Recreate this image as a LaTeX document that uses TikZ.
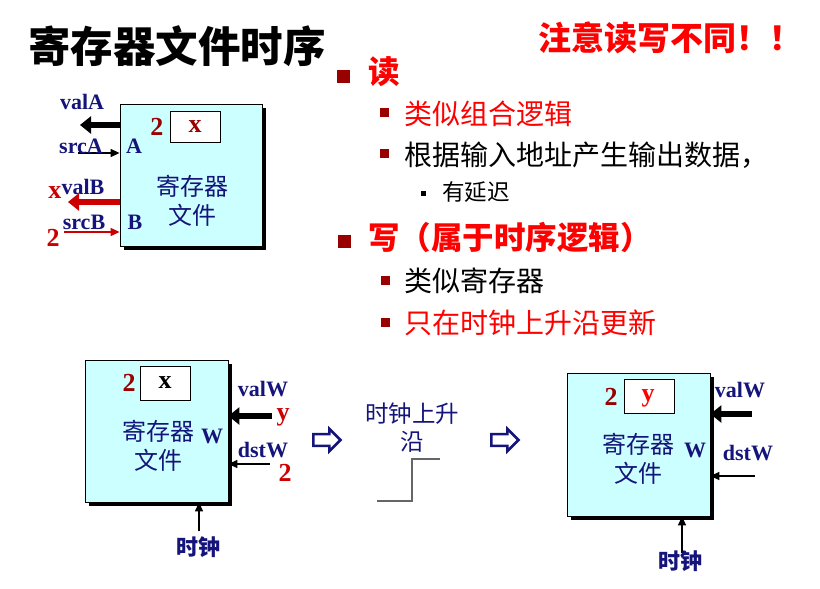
\documentclass[tikz,border=0pt]{standalone}
\usepackage{fontspec}
\setmainfont{Liberation Serif}
\newfontfamily\cjk{Noto Sans CJK SC}
\usepackage{tikz}
\usepackage{xcolor}
\usetikzlibrary{positioning, shapes.arrows, arrows.meta, shadows}

\definecolor{navytext}{HTML}{14147A}
\definecolor{boxcyan}{HTML}{CCFFFF}
\definecolor{darkred}{HTML}{990000}
\definecolor{brightred}{HTML}{FF0000}
\definecolor{arrowred}{HTML}{CC0000}

\begin{document}
\begin{tikzpicture}[
                x=1pt, y=-1pt,
                reg_box/.style={rectangle, draw=black, thick, fill=boxcyan, minimum width=142pt, minimum height=142pt, drop shadow={shadow xshift=3.5pt, shadow yshift=-3.5pt, fill=black, opacity=1}},
                cell_box/.style={rectangle, draw=black, thick, fill=white, minimum width=50pt, minimum height=33pt, inner sep=0pt},
                sig_text/.style={font=\bfseries\fontsize{22}{22}\selectfont, text=navytext, inner sep=0pt},
                num_text/.style={font=\bfseries\fontsize{26}{26}\selectfont, inner sep=0pt},
                box_text/.style={font=\cjk\fontsize{24}{29}\selectfont, text=navytext, align=center, inner sep=0pt},
                clk_text/.style={font=\cjk\bfseries\fontsize{22}{22}\selectfont, text=navytext, inner sep=0pt},
                item_text/.style={font=\cjk\fontsize{28}{28}\selectfont, anchor=west, inner sep=0pt},
                head_text/.style={font=\cjk\bfseries\fontsize{31.5}{31.5}\selectfont, text=brightred, anchor=west, inner sep=0pt},
                big_bullet/.style={rectangle, fill=darkred, minimum size=13pt, inner sep=0pt},
                small_bullet/.style={rectangle, fill=darkred, minimum size=9pt, inner sep=0pt},
                wide_arrow/.style={line width=6pt, -{Triangle[length=11pt,width=17pt]}},
                thin_arrow/.style={line width=1.5pt, -{Triangle[length=9pt,width=8pt]}},
                hollow_arrow/.style={single arrow, draw=navytext, fill=white, line width=2.5pt, minimum height=27pt, minimum width=22pt, inner sep=3.5pt, single arrow head extend=4pt}
            ]
                \useasboundingbox (0,0) rectangle (820,589);

                % Title and note
                \node[font=\cjk\bfseries\fontsize{42.5}{42.5}\selectfont, anchor=west, inner sep=0pt] (title) at (28,46) {寄存器文件时序};
                \node[font=\cjk\bfseries\fontsize{33}{33}\selectfont, text=brightred, anchor=west, inner sep=0pt] (note) at (538,38) {注意读写不同！！};

                % Read / write bullets
                \node[big_bullet] (b1) at (343,76) {};
                \node[head_text] (read) at (368,72) {读};
                \node[small_bullet] (b11) at (384,112) {};
                \node[item_text, text=brightred] (read1) at (404,114) {类似组合逻辑};
                \node[small_bullet] (b12) at (384,153) {};
                \node[item_text] (read2) at (404,155) {根据输入地址产生输出数据，};
                \node[rectangle, fill=black, minimum size=5pt, inner sep=0pt] (b121) at (423,193) {};
                \node[item_text, font=\cjk\fontsize{22.5}{22.5}\selectfont] (read3) at (442,192) {有延迟};
                \node[big_bullet] (b2) at (344,241) {};
                \node[head_text] (write) at (368,238) {写（属于时序逻辑）};
                \node[small_bullet] (b21) at (385,280) {};
                \node[item_text] (write1) at (404,281) {类似寄存器};
                \node[small_bullet] (b22) at (385,322) {};
                \node[item_text, text=brightred] (write2) at (404,323) {只在时钟上升沿更新};

                % Register file, read side
                \node[reg_box] (rfR) at (191,175) {};
                \node[cell_box, minimum height=31pt] (cellR) at (195,126.5) {};
                \node[num_text, text=darkred] (xR) at (cellR) {x};
                \node[num_text, text=darkred, left=6pt of cellR] (numR) {2};
                \node[sig_text] (portA) at (134,146) {A};
                \node[sig_text] (portB) at (135,222) {B};
                \node[box_text] (nameR) at (192,201) {寄存器\\文件};
                \coordinate (valAend) at (80,125);
                \coordinate (srcAstart) at (78,153);
                \coordinate (valBend) at (68,202);
                \coordinate (srcBstart) at (64,232);
                \draw[wide_arrow] (rfR.west |- valAend) -- (valAend);
                \draw[thin_arrow] (srcAstart) -- (rfR.west |- srcAstart);
                \draw[wide_arrow, arrowred] (rfR.west |- valBend) -- (valBend);
                \draw[thin_arrow, arrowred] (srcBstart) -- (rfR.west |- srcBstart);
                \node[sig_text] (valA) at (82,102) {valA};
                \node[sig_text] (srcA) at (81,146) {srcA};
                \node[sig_text] (valB) at (83,187) {valB};
                \node[sig_text] (srcB) at (84,222) {srcB};
                \node[num_text, text=arrowred] (xout) at (55,193) {x};
                \node[num_text, text=arrowred] (twoin) at (53,238) {2};

                % Register file before the clock edge
                \node[reg_box, minimum width=143pt] (rfW1) at (156.5,431) {};
                \node[cell_box, minimum height=34pt] (cellW1) at (165,383) {};
                \node[num_text] (xW1) at (cellW1) {x};
                \node[num_text, text=darkred] (numW1) at (129,383) {2};
                \node[box_text] (nameW1) at (158,446) {寄存器\\文件};
                \node[sig_text] (portW1) at (212,436) {W};
                \coordinate (valW1start) at (272,416);
                \coordinate (dstW1start) at (270,464);
                \coordinate (clk1) at (199,531);
                \draw[wide_arrow] (valW1start) -- (rfW1.east |- valW1start);
                \draw[thin_arrow] (dstW1start) -- (rfW1.east |- dstW1start);
                \draw[thin_arrow] (clk1) -- (rfW1.south -| clk1);
                \node[sig_text] (valW1) at (263,389) {valW};
                \node[sig_text] (dstW1) at (263,450) {dstW};
                \node[num_text, text=arrowred] (yin) at (283,417) {y};
                \node[num_text, text=arrowred] (twoW1) at (285,473) {2};
                \node[clk_text] (clkname1) at (198,547) {时钟};

                % Clock edge
                \node[hollow_arrow] (go1) at (324,440) {};
                \node[hollow_arrow] (go2) at (502,440) {};
                \node[box_text, font=\cjk\fontsize{23.5}{28}\selectfont] (edge) at (412,428) {时钟上升\\沿};
                \coordinate (lowL) at (377,501);
                \coordinate (highR) at (440,459);
                \draw[black!60, line width=1.3pt] (lowL) -- (lowL -| edge) -- (highR -| edge) -- (highR);

                % Register file after the clock edge
                \node[reg_box, minimum width=143pt, minimum height=143pt] (rfW2) at (638.5,444.5) {};
                \node[cell_box, minimum height=34pt] (cellW2) at (649,396) {};
                \node[num_text, text=brightred] (yW2) at (648,398) {y};
                \node[num_text, text=darkred] (numW2) at (611,397) {2};
                \node[box_text] (nameW2) at (638,459) {寄存器\\文件};
                \node[sig_text] (portW2) at (695,450) {W};
                \coordinate (valW2start) at (752,414);
                \coordinate (dstW2start) at (755,476);
                \coordinate (clk2) at (682,553);
                \draw[wide_arrow] (valW2start) -- (rfW2.east |- valW2start);
                \draw[thin_arrow] (dstW2start) -- (rfW2.east |- dstW2start);
                \draw[thin_arrow] (clk2) -- (rfW2.south -| clk2);
                \node[sig_text] (valW2) at (740,390) {valW};
                \node[sig_text] (dstW2) at (748,453) {dstW};
                \node[clk_text] (clkname2) at (680,561) {时钟};

            \end{tikzpicture}
\end{document}
